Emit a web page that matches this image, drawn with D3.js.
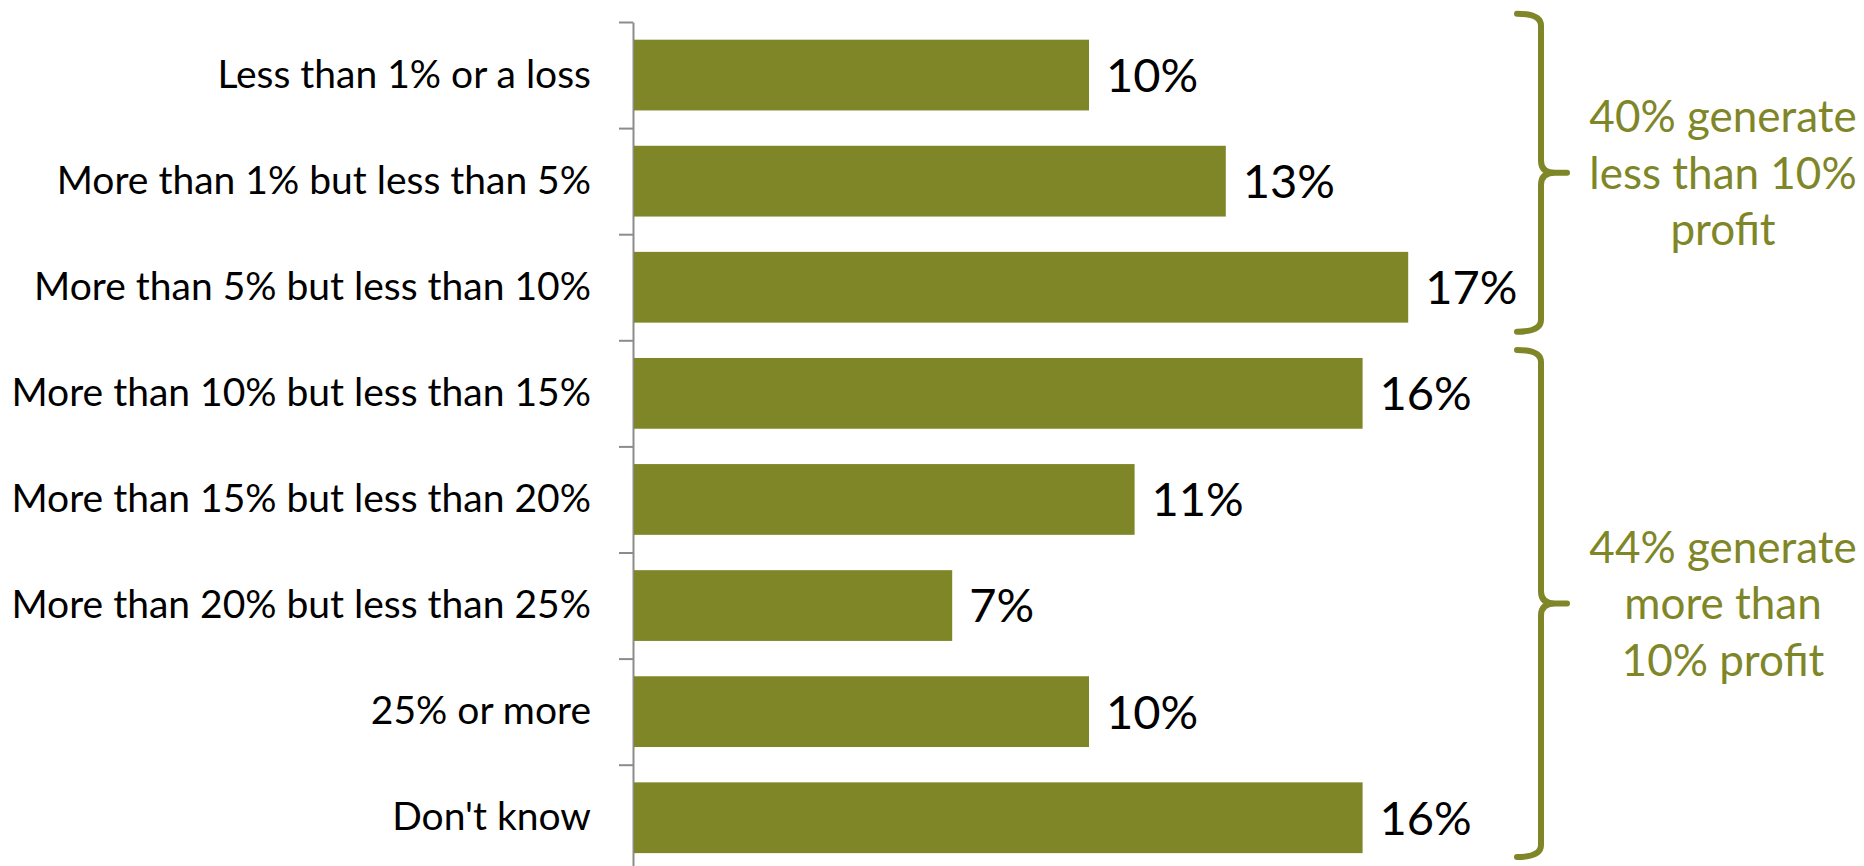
<!DOCTYPE html>
<html>
<head>
<meta charset="utf-8">
<script src="https://cdn.jsdelivr.net/npm/d3@7"></script>
<style>
  body { margin: 0; background: #fff; }
  svg { display: block; font-family: Lato, "Open Sans", sans-serif; }
</style>
</head>
<body>
<div id="chart-area"></div>
<script>
// data
const categories = [
  "Less than 1% or a loss",
  "More than 1% but less than 5%",
  "More than 5% but less than 10%",
  "More than 10% but less than 15%",
  "More than 15% but less than 20%",
  "More than 20% but less than 25%",
  "25% or more",
  "Don't know"
]
const values = [0.10, 0.13, 0.17, 0.16, 0.11, 0.07, 0.10, 0.16]
const groups = [
  { from: 0, to: 2, lines: ["40% generate", "less than 10%", "profit"] },
  { from: 3, to: 7, lines: ["44% generate", "more than", "10% profit"] }
]

const WIDTH = 1864
const HEIGHT = 866
const OLIVE = "#7f8628"

const svg = d3.select("#chart-area").append("svg")
  .attr("width", WIDTH)
  .attr("height", HEIGHT)

const x = d3.scaleLinear()
  .domain([0, 0.18])
  .range([633, 633 + 18 * 45.6])

const y = d3.scaleBand()
  .domain(categories)
  .range([22, 22 + 8 * 106.1])
  .paddingInner(0.333)
  .paddingOuter(0.1667)

// index scale for ticks between the bars
const yIdx = d3.scaleLinear()
  .domain([0, categories.length])
  .range(y.range())

const axisG = svg.append("g")
  .attr("transform", `translate(${x(0)}, 0)`)
  .call(d3.axisLeft(yIdx)
    .tickValues(d3.range(categories.length + 1))
    .tickSize(14)
    .tickSizeOuter(0)
    .tickFormat(""))
axisG.selectAll("path, line")
  .attr("stroke", "#8c8c8c")
  .attr("stroke-width", 2)

// category labels
const labelG = svg.append("g")
  .attr("transform", `translate(${x(0)}, 0)`)
  .call(d3.axisLeft(y).tickSize(0).tickPadding(42))
labelG.select(".domain").remove()
labelG.selectAll("text")
  .attr("font-size", "39px")
  .attr("font-family", "Lato, sans-serif")
  .attr("fill", "#000")

// bars
svg.selectAll("rect.bar")
  .data(values)
  .enter().append("rect")
  .attr("class", "bar")
  .attr("x", x(0) + 1)
  .attr("y", (d, i) => y(categories[i]))
  .attr("width", d => x(d) - x(0) - 1)
  .attr("height", y.bandwidth())
  .attr("fill", OLIVE)

// value labels
svg.selectAll("text.val")
  .data(values)
  .enter().append("text")
  .attr("class", "val")
  .attr("x", d => x(d) + 17)
  .attr("y", (d, i) => y(categories[i]) + y.bandwidth() / 2)
  .attr("dy", "0.36em")
  .attr("font-size", "47px")
  .attr("fill", "#000")
  .text(d => Math.round(d * 100) + "%")

// braces + annotations
const xv = 1541, x0 = 1517, xt = 1567, r = 12
groups.forEach(g => {
  const top = g.from === 0 ? y(categories[g.from]) - 26 : y(categories[g.from]) - 8
  const bot = g.from === 0 ? y(categories[g.to]) + y.bandwidth() + 9 : y(categories[g.to]) + y.bandwidth() + 4
  const mid = (top + bot) / 2
  const p = d3.path()
  p.moveTo(x0, top)
  p.quadraticCurveTo(xv, top, xv, top + r)
  p.lineTo(xv, mid - r)
  p.quadraticCurveTo(xv, mid, xt - 12, mid)
  p.lineTo(xt, mid)
  p.moveTo(xt - 12, mid)
  p.quadraticCurveTo(xv, mid, xv, mid + r)
  p.lineTo(xv, bot - r)
  p.quadraticCurveTo(xv, bot, x0, bot)
  svg.append("path")
    .attr("d", p.toString())
    .attr("fill", "none")
    .attr("stroke", OLIVE)
    .attr("stroke-width", 6)
    .attr("stroke-linecap", "round")

  const t = svg.append("text")
    .attr("text-anchor", "middle")
    .attr("font-size", "44px")
    .attr("fill", OLIVE)
  g.lines.forEach((line, i) => {
    t.append("tspan")
      .attr("x", 1723)
      .attr("y", mid - 56.5 + i * 56.5)
      .attr("dy", "0.36em")
      .text(line)
  })
})
</script>
</body>
</html>
